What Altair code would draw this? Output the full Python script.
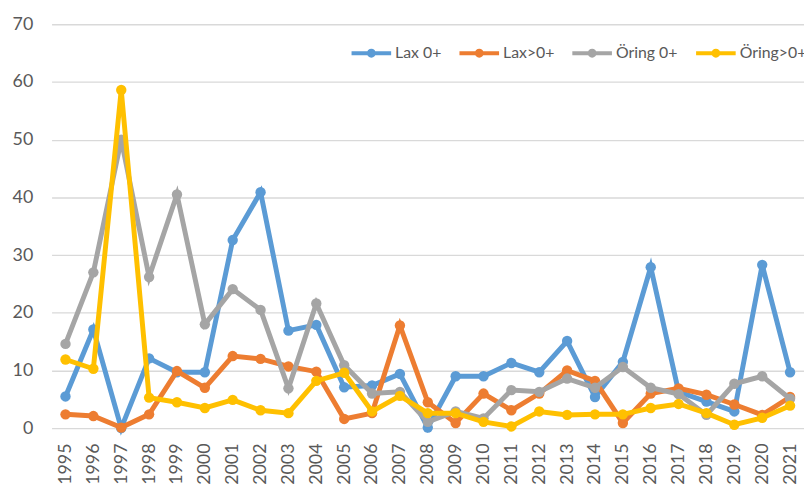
import altair as alt
import pandas as pd

years = [str(y) for y in range(1995, 2022)]
series = ["Lax 0+", "Lax>0+", "Öring 0+", "Öring>0+"]
colors = ["#5B9BD5", "#ED7D31", "#A5A5A5", "#FFC000"]

lax_0 = [5.5, 17.1, 0.0, 12.1, 9.7, 9.7, 32.6, 40.9, 16.9, 17.9, 7.1, 7.4, 9.4, 0.1,
         9.0, 9.0, 11.3, 9.7, 15.1, 5.4, 11.5, 27.9, 6.3, 4.6, 2.9, 28.3, 9.7]
lax_gt0 = [2.4, 2.1, 0.1, 2.4, 9.9, 7.0, 12.5, 12.0, 10.7, 9.8, 1.6, 2.6, 17.8, 4.5,
           0.9, 6.0, 3.1, 6.0, 10.0, 8.2, 0.9, 6.0, 6.9, 5.8, 4.1, 2.3, 5.4]
oring_0 = [14.6, 27.0, 50.0, 26.2, 40.5, 18.0, 24.1, 20.5, 6.9, 21.6, 10.9, 6.0, 6.3, 1.1,
           2.9, 1.7, 6.6, 6.3, 8.6, 7.0, 10.6, 7.0, 5.9, 2.3, 7.7, 9.0, 5.1]
oring_gt0 = [11.9, 10.3, 58.6, 5.3, 4.5, 3.5, 4.9, 3.1, 2.6, 8.2, 9.6, 2.9, 5.6, 2.6,
             2.6, 1.1, 0.3, 2.9, 2.3, 2.4, 2.4, 3.5, 4.2, 2.6, 0.6, 1.8, 3.9]
y_ticks = [0, 10, 20, 30, 40, 50, 60, 70]

rows = []
for name, vals in zip(series, [lax_0, lax_gt0, oring_0, oring_gt0]):
    for yr, v in zip(years, vals):
        rows.append({"year": yr, "series": name, "value": v})
df = pd.DataFrame(rows)

FONT = "Lato"
TXT = "#595959"

# line with a solid dot, drawn inside the nominal [-1, 1] symbol box
legend_path = ("M-1,0H1"
               "M0.05,0A0.05,0.05,0,1,1,-0.05,0A0.05,0.05,0,1,1,0.05,0"
               "M0.125,0A0.125,0.125,0,1,1,-0.125,0A0.125,0.125,0,1,1,0.125,0")

color = alt.Color(
    "series:N",
    scale=alt.Scale(domain=series, range=colors),
    legend=alt.Legend(
        title=None, orient="none", direction="horizontal",
        legendX=301, legendY=7, padding=0,
        symbolType=legend_path, symbolSize=1600, symbolStrokeWidth=4,
        labelOffset=2, columnPadding=10,
        labelFont=FONT, labelFontSize=16, labelColor=TXT,
    ),
)

base = alt.Chart(df).encode(
    x=alt.X("year:O", sort=years, scale=alt.Scale(type="point", padding=0.5),
            axis=alt.Axis(title=None, labelAngle=-90, domain=False, ticks=False, grid=False,
                          labelPadding=15, labelFontSize=18, labelFont=FONT, labelColor=TXT)),
    y=alt.Y("value:Q", scale=alt.Scale(domain=[0, 70], nice=False, zero=True),
            axis=alt.Axis(title=None, values=y_ticks, domain=False, ticks=False, grid=True,
                          gridColor="#D9D9D9", gridWidth=1.3, labelPadding=19,
                          labelFontSize=18, labelFont=FONT, labelColor=TXT)),
    color=color,
)

layers = [
    base.transform_filter(alt.datum.series == s).mark_line(
        strokeWidth=5,
        point=alt.OverlayMarkDef(filled=True, size=110, opacity=1),
    )
    for s in series
]

chart = alt.layer(*layers).properties(
    width=760, height=408,
    autosize=alt.AutoSizeParams(type="none"),
    padding={"left": 44, "top": 14, "right": 0, "bottom": 56},
    background="white",
).configure_view(stroke=None)

chart.save("out.html", embed_options={"renderer": "svg", "actions": False})
